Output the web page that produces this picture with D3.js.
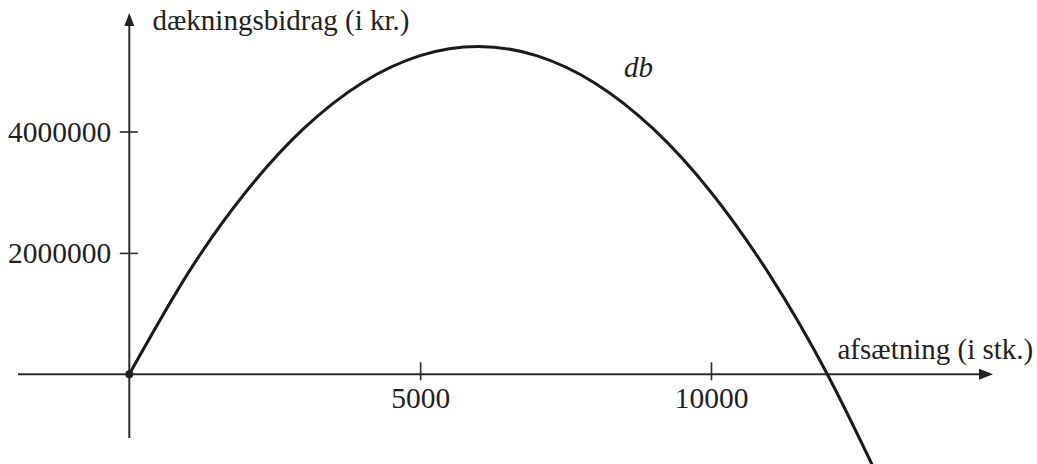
<!DOCTYPE html>
<html>
<head>
<meta charset="utf-8">
<script src="https://cdn.jsdelivr.net/npm/d3@7"></script>
<style>
  html, body { margin: 0; padding: 0; background: #fff; }
  svg { display: block; }
  text { font-family: "Liberation Serif", "Times New Roman", serif; fill: #231f20; }
</style>
</head>
<body>
<script>
// Afsætning (stk.) and the matching dækningsbidrag (kr.)
const units = [0, 1000, 2000, 3000, 4000, 5000, 6000, 7000, 8000, 9000, 10000, 11000, 12000, 13000];
const contribution = [0, 1650000, 3000000, 4050000, 4800000, 5250000, 5400000, 5250000, 4800000, 4050000, 3000000, 1650000, 0, -1950000];

const xTickValues = [5000, 10000];
const yTickValues = [2000000, 4000000];
const xTickLabels = ["5000", "10000"];
const yTickLabels = ["2000000", "4000000"];

const xAxisTitle = "afsætning (i stk.)";
const yAxisTitle = "dækningsbidrag (i kr.)";
const curveName = "db";

const W = 1037, H = 464;
const ink = "#231f20";
const tickFont = 29.5;
const titleFont = 29;

const svg = d3.select("body").append("svg")
  .attr("width", W).attr("height", H);

const x = d3.scaleLinear().domain([0, 10000]).range([129.3, 711]);
const y = d3.scaleLinear().domain([0, 4000000]).range([374.3, 131.5]);

// axis extents in data units
const xMin = x.invert(18), xMax = x.invert(993);
const yMin = y.invert(438), yMax = y.invert(13);

const axes = svg.append("g").attr("stroke", "#2b2b2b").attr("stroke-width", 2);

// horizontal axis
axes.append("line")
  .attr("x1", x(xMin)).attr("x2", x(xMax) - 8)
  .attr("y1", y(0)).attr("y2", y(0));
svg.append("path")
  .attr("d", `M${x(xMax)},${y(0)} l-14,-5.5 l0,11 Z`)
  .attr("fill", ink);

// vertical axis
axes.append("line")
  .attr("x1", x(0)).attr("x2", x(0))
  .attr("y1", y(yMin)).attr("y2", y(yMax) + 8);
svg.append("path")
  .attr("d", `M${x(0)},${y(yMax)} l-5,13 l10,0 Z`)
  .attr("fill", ink);

// x ticks
const xAxis = d3.axisBottom(x).tickValues(xTickValues)
  .tickFormat((d, i) => xTickLabels[i]).tickSize(0).tickPadding(0);
const gx = svg.append("g").attr("transform", `translate(0,${y(0)})`).call(xAxis);
gx.select(".domain").remove();
gx.selectAll(".tick line")
  .attr("y1", -12).attr("y2", 6)
  .attr("stroke", "#2b2b2b").attr("stroke-width", 1.6);
gx.selectAll(".tick text")
  .attr("y", 34).attr("dy", null)
  .attr("font-size", tickFont)
  .attr("font-family", "Liberation Serif, Times New Roman, serif")
  .attr("fill", ink);

// y ticks
const yAxis = d3.axisLeft(y).tickValues(yTickValues)
  .tickFormat((d, i) => yTickLabels[i]).tickSize(0).tickPadding(0);
const gy = svg.append("g").attr("transform", `translate(${x(0)},0)`).call(yAxis);
gy.select(".domain").remove();
gy.selectAll(".tick line")
  .attr("x1", -9.5).attr("x2", 8.5)
  .attr("stroke", "#2b2b2b").attr("stroke-width", 1.6);
gy.selectAll(".tick text")
  .attr("x", -18).attr("dy", null).attr("y", 10)
  .attr("font-size", tickFont)
  .attr("font-family", "Liberation Serif, Times New Roman, serif")
  .attr("fill", ink);

// axis titles
svg.append("text")
  .attr("x", 152.5).attr("y", 29.5)
  .attr("font-size", titleFont)
  .text(yAxisTitle);

svg.append("text")
  .attr("x", 837.5).attr("y", 359)
  .attr("font-size", titleFont)
  .text(xAxisTitle);

// contribution curve
const line = d3.line()
  .x((d, i) => x(units[i]))
  .y(d => y(d))
  .curve(d3.curveNatural);

svg.append("path")
  .datum(contribution)
  .attr("d", line)
  .attr("fill", "none")
  .attr("stroke", "#1a1a1a")
  .attr("stroke-width", 3);

// curve name
svg.append("text")
  .attr("x", 624).attr("y", 76.5)
  .attr("font-size", titleFont)
  .attr("font-style", "italic")
  .text(curveName);

// starting point at origin
svg.append("circle")
  .attr("cx", x(units[0])).attr("cy", y(contribution[0]))
  .attr("r", 4)
  .attr("fill", ink);
</script>
</body>
</html>
